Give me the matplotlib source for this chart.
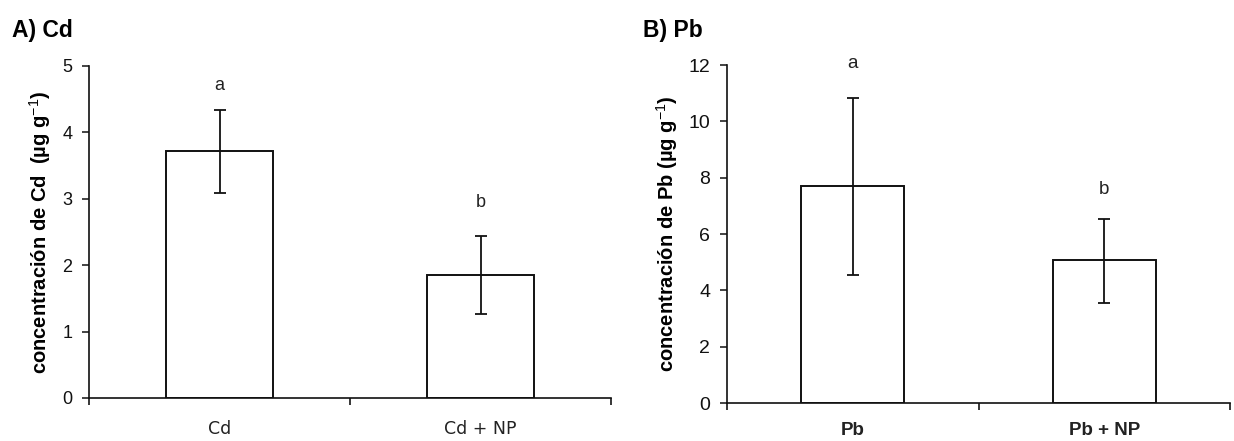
import numpy as np
import matplotlib
matplotlib.use("Agg")
import matplotlib.pyplot as plt

plt.rcParams['font.family'] = ['Liberation Sans', 'DejaVu Sans']
plt.rcParams['mathtext.fontset'] = 'custom'
plt.rcParams['mathtext.rm'] = 'Liberation Sans'
plt.rcParams['mathtext.bf'] = 'Liberation Sans:bold'

# datos
cd_cats = ['Cd', 'Cd + NP']
cd_mean = [3.72, 1.85]
cd_err_hi = [4.33, 2.44]
cd_err_lo = [3.09, 1.26]
cd_letters = ['a', 'b']
cd_letter_y = [4.71, 2.95]

pb_cats = ['Pb', 'Pb + NP']
pb_mean = [7.70, 5.09]
pb_err_hi = [10.84, 6.53]
pb_err_lo = [4.54, 3.54]
pb_letters = ['a', 'b']
pb_letter_y = [12.05, 7.59]

W, H = 1234, 441
fig = plt.figure(figsize=(W/100, H/100), dpi=100)

def px_axes(x0, x1, y0, y1):
    # y0 top pixel, y1 bottom pixel
    return fig.add_axes([x0/W, 1-y1/H, (x1-x0)/W, (y1-y0)/H])

def panel(ax, cats, mean, hi, lo, letters, ly, ymax, yticks, ylabel,
          tick_fs, cat_fs, cat_font, cat_weight, cat_pad, let_fs, lab_x):
    x = np.arange(len(cats))
    mean = np.array(mean)
    yerr = [mean - np.array(lo), np.array(hi) - mean]
    ax.bar(x, mean, width=0.41, color='white', edgecolor='#111111', linewidth=1.4, zorder=2)
    ax.errorbar(x, mean, yerr=yerr, fmt='none', ecolor='#111111', elinewidth=1.3,
                capsize=4, capthick=1.3, zorder=3)
    for xi, t, yy in zip(x, letters, ly):
        ax.text(xi, yy, t, ha='center', va='center', fontsize=let_fs, color='#222222',
                clip_on=False)
    ax.set_xlim(-0.5, 1.5)
    ax.set_ylim(0, ymax)
    ax.set_yticks(yticks)
    ax.tick_params(axis='y', direction='out', length=5, width=1.1, labelsize=tick_fs,
                   colors='#111111', pad=7)
    ax.set_xticks([-0.5, 0.5, 1.5])
    ax.set_xticklabels([])
    ax.tick_params(axis='x', which='major', direction='out', length=5, width=1.1)
    ax.set_xticks(x, minor=True)
    ax.set_xticklabels(cats, minor=True, fontsize=cat_fs, family=cat_font,
                       weight=cat_weight, color='#222222')
    ax.tick_params(axis='x', which='minor', length=0, pad=cat_pad)
    for s in ['top', 'right']:
        ax.spines[s].set_visible(False)
    for s in ['left', 'bottom']:
        ax.spines[s].set_linewidth(1.2)
        ax.spines[s].set_color('#111111')
    ax.set_ylabel(ylabel, fontsize=14.5, fontweight='bold', va='center')
    bb = ax.get_position()
    ax.yaxis.set_label_coords((lab_x/W - bb.x0)/bb.width, 0.5)

ax1 = px_axes(89, 611, 66, 398)
panel(ax1, cd_cats, cd_mean, cd_err_hi, cd_err_lo, cd_letters, cd_letter_y,
      5, [0, 1, 2, 3, 4, 5], r'concentración de Cd  (µg g$^{-1}$)',
      13, 12.5, 'DejaVu Sans', 'normal', 16, 13, 40)

ax2 = px_axes(727, 1230, 65, 403)
panel(ax2, pb_cats, pb_mean, pb_err_hi, pb_err_lo, pb_letters, pb_letter_y,
      12, [0, 2, 4, 6, 8, 10, 12], r'concentración de Pb (µg g$^{-1}$)',
      14, 13.5, 'Liberation Sans', 'bold', 14, 13.5, 667)

fig.text(12/W, 1-30/H, 'A) Cd', fontsize=16.5, fontweight='bold', va='center', ha='left')
fig.text(643/W, 1-30/H, 'B) Pb', fontsize=16.5, fontweight='bold', va='center', ha='left')

fig.savefig('out.png', dpi=100)
